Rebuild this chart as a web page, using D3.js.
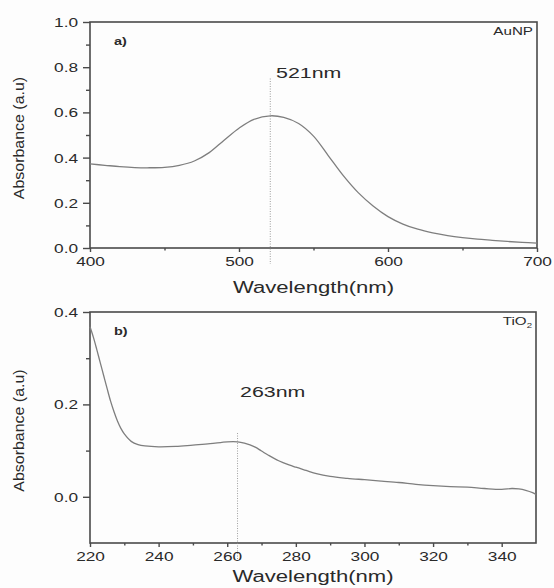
<!DOCTYPE html>
<html>
<head>
<meta charset="utf-8">
<script src="https://cdn.jsdelivr.net/npm/d3@7"></script>
<style>
body { margin: 0; background: #fdfdfd; }
text { font-family: "Liberation Sans", Arial, sans-serif; fill: #2a2a2a; }
</style>
</head>
<body>
<div id="chart"></div>
<script>
var width = 554,
height = 588,
SX = 1.38; // the source figure is stretched sideways, so the text is too

// panel a) AuNP
var auWave = [400, 410, 420, 430, 440, 450, 460, 470, 480, 490, 500, 510, 521, 530, 540, 550, 560, 570, 580, 590, 600, 610, 620, 630, 640, 650, 660, 670, 680, 690, 700];
var auAbs = [0.372, 0.366, 0.360, 0.356, 0.355, 0.357, 0.366, 0.385, 0.422, 0.477, 0.530, 0.569, 0.585, 0.578, 0.551, 0.495, 0.408, 0.320, 0.245, 0.186, 0.139, 0.106, 0.083, 0.067, 0.055, 0.046, 0.039, 0.034, 0.029, 0.025, 0.022];
var auXTicks = [400, 500, 600, 700];
var auYTicks = [0.0, 0.2, 0.4, 0.6, 0.8, 1.0];

// panel b) TiO2
var tiWave = [220, 221, 222, 223, 224, 225, 226, 227, 228, 229, 230, 232, 234, 236, 240, 245, 250, 255, 260, 263, 265, 268, 270, 272, 275, 278, 280, 283, 286, 290, 295, 300, 305, 310, 315, 320, 325, 330, 335, 340, 343, 345, 347, 349, 350];
var tiAbs = [0.368, 0.345, 0.318, 0.290, 0.262, 0.234, 0.207, 0.184, 0.164, 0.148, 0.136, 0.120, 0.113, 0.110, 0.108, 0.109, 0.112, 0.115, 0.119, 0.119, 0.116, 0.108, 0.099, 0.090, 0.078, 0.069, 0.064, 0.057, 0.050, 0.044, 0.040, 0.037, 0.034, 0.031, 0.027, 0.024, 0.022, 0.021, 0.018, 0.016, 0.018, 0.017, 0.014, 0.009, 0.005];
var tiXTicks = [220, 240, 260, 280, 300, 320, 340];
var tiYTicks = [0.0, 0.2, 0.4];

var panels = [
  {
    wave: auWave, abs: auAbs,
    xDomain: [400, 700], yDomain: [0, 1],
    xTicks: auXTicks, yTicks: auYTicks,
    xMinor: [450, 550, 650], yMinor: [0.1, 0.3, 0.5, 0.7, 0.9],
    left: 90, right: 537, top: 22, bottom: 248, titleY: 293,
    fmtY: d3.format(".1f"),
    peak: 521, peakLabel: "521nm", peakTop: 0.75, labelX: 276, labelY: 78,
    tag: "a)", name: "AuNP"
  },
  {
    wave: tiWave, abs: tiAbs,
    xDomain: [220, 350], yDomain: [-0.1, 0.4],
    xTicks: tiXTicks, yTicks: tiYTicks,
    xMinor: [230, 250, 270, 290, 310, 330], yMinor: [0.1, 0.3],
    left: 90, right: 536, top: 312, bottom: 543, titleY: 582,
    fmtY: d3.format(".1f"),
    peak: 263, peakLabel: "263nm", peakTop: 0.138, labelX: 240, labelY: 397,
    tag: "b)", name: "TiO"
  }
];

var svg = d3.select("#chart").append("svg")
.attr("width", width)
.attr("height", height);

svg.append("rect")
.attr("width", width)
.attr("height", height)
.style("fill", "#fdfdfd");

panels.forEach(function(p, k) {
  var x = d3.scaleLinear().domain(p.xDomain).range([p.left, p.right]);
  var y = d3.scaleLinear().domain(p.yDomain).range([p.bottom, p.top]);

  var g = svg.append("g");

  // frame
  g.append("rect")
  .attr("x", p.left)
  .attr("y", p.top)
  .attr("width", p.right - p.left)
  .attr("height", p.bottom - p.top)
  .style("fill", "none")
  .style("stroke", "#4a4a4a")
  .style("stroke-width", 1.6);

  // minor ticks
  g.append("g")
  .attr("transform", "translate(0," + p.bottom + ")")
  .call(d3.axisBottom(x).tickValues(p.xMinor).tickSize(2.5).tickFormat(""))
  .call(function(a) { a.select(".domain").remove(); });
  g.append("g")
  .attr("transform", "translate(" + p.left + ",0)")
  .call(d3.axisLeft(y).tickValues(p.yMinor).tickSize(4).tickFormat(""))
  .call(function(a) { a.select(".domain").remove(); });

  // major ticks
  var xa = g.append("g")
  .attr("transform", "translate(0," + p.bottom + ")")
  .call(d3.axisBottom(x).tickValues(p.xTicks).tickSize(4));
  xa.select(".domain").remove();
  xa.selectAll("text")
  .attr("y", 18.5)
  .attr("dy", 0)
  .attr("transform", "scale(" + SX + ",1)")
  .style("font-size", "12.5px")
  .style("fill", "#2a2a2a");

  var ya = g.append("g")
  .attr("transform", "translate(" + p.left + ",0)")
  .call(d3.axisLeft(y).tickValues(p.yTicks).tickSize(7).tickFormat(p.fmtY));
  ya.select(".domain").remove();
  ya.selectAll("text")
  .attr("x", -12 / SX)
  .attr("dy", "0.36em")
  .attr("transform", "scale(" + SX + ",1)")
  .style("font-size", "12.5px")
  .style("fill", "#2a2a2a");

  g.selectAll(".tick line")
  .style("stroke", "#4a4a4a")
  .style("stroke-width", 1.4);

  // spectrum
  var line = d3.line()
  .curve(d3.curveCatmullRom.alpha(0.5))
  .x(function(d, i) { return x(p.wave[i]); })
  .y(function(d) { return y(d); });

  g.append("path")
  .datum(p.abs)
  .attr("d", line)
  .style("fill", "none")
  .style("stroke", "#7e7e7e")
  .style("stroke-width", 1.3);

  // peak marker
  g.append("line")
  .attr("x1", x(p.peak))
  .attr("x2", x(p.peak))
  .attr("y1", y(p.peakTop))
  .attr("y2", p.bottom + 16)
  .style("stroke", "#888")
  .style("stroke-width", 0.8)
  .style("stroke-dasharray", "1,1.5");

  g.append("text")
  .attr("transform", "translate(" + p.labelX + "," + p.labelY + ") scale(" + SX + ",1)")
  .style("font-size", "15.5px")
  .text(p.peakLabel);

  // panel tag and sample name
  g.append("text")
  .attr("transform", "translate(" + (p.left + 24) + "," + (p.top + 23) + ") scale(" + SX + ",1)")
  .style("font-size", "10.5px")
  .style("font-weight", "bold")
  .text(p.tag);

  var nm = g.append("text")
  .attr("transform", "translate(" + (p.right - 4) + "," + (p.top + 13) + ") scale(" + SX + ",1)")
  .style("font-size", "11px")
  .style("text-anchor", "end")
  .text(p.name);
  if (k === 1) {
    nm.append("tspan")
    .attr("dy", 3)
    .style("font-size", "7px")
    .text("2");
  }

  // axis titles
  g.append("text")
  .attr("transform", "translate(" + ((p.left + p.right) / 2) + "," + p.titleY + ") scale(" + SX + ",1)")
  .style("text-anchor", "middle")
  .style("font-size", "16px")
  .text("Wavelength(nm)");

  g.append("text")
  .attr("transform", "translate(24," + ((p.top + p.bottom) / 2 + 3) + ") rotate(-90) scale(1.1,1)")
  .style("text-anchor", "middle")
  .style("font-size", "14.5px")
  .text("Absorbance (a.u)");
});
</script>
</body>
</html>
